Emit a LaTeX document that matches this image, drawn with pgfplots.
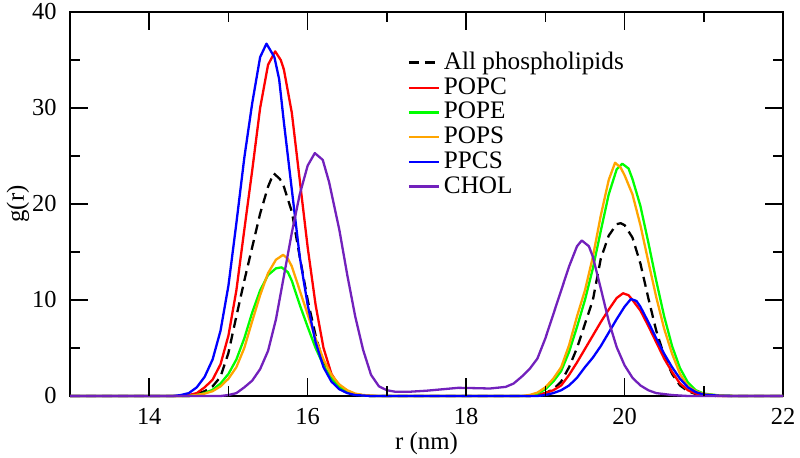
\documentclass[border=0pt,12pt]{standalone}
\usepackage{fontspec}
\setmainfont{Liberation Serif}
\usepackage{pgfplots}
\pgfplotsset{compat=1.18}
\definecolor{ggreen}{RGB}{0,255,0}
\definecolor{gorange}{RGB}{255,165,0}
\definecolor{gindigo}{RGB}{114,33,188}
\begin{document}
\begin{tikzpicture}
\begin{axis}[
  name=ax,
  scale only axis,
  width=356.5pt, height=192pt,
  xmin=13, xmax=22, ymin=0, ymax=40,
  xtick={14,16,...,22}, ytick={0,10,...,40},
  minor xtick={13,15,...,21}, minor ytick={5,15,...,35},
  tick align=inside,
  major tick length=9pt, minor tick length=5pt,
  axis line style={line width=0.8pt},
  major tick style={line width=0.8pt, draw=black},
  minor tick style={line width=0.8pt, draw=black},
  clip=false,
  /pgf/number format/assume math mode=true,
  tick label style={font=\fontsize{12.2}{14}\selectfont},
  xticklabel style={inner sep=0pt, anchor=north, yshift=-6pt},
  yticklabel style={inner sep=0pt, anchor=east, xshift=-6.5pt},
  label style={font=\fontsize{12.4}{14}\selectfont},
  xlabel={r (nm)}, ylabel={g(r)},
  xlabel style={at={(axis description cs:0.5,0)}, anchor=north, yshift=-16.5pt, inner sep=1.5pt},
  ylabel style={at={([xshift=-26pt]axis description cs:0,0.5)}, anchor=center, inner sep=0pt},
  legend style={draw=none, fill=none, at={(0.473,0.907)}, anchor=north west,
    font=\fontsize{12.6}{14}\selectfont, row sep=-1.8pt, inner sep=0pt,
    /tikz/every even column/.append style={column sep=9pt}},
  legend cell align=left,
  legend image code/.code={\draw[#1] (0pt,0pt) -- (15pt,0pt);},
  every axis plot/.append style={line width=1.15pt, line join=round},
]
\addplot[black, dash pattern=on 5pt off 3pt] coordinates {
(13,0) (14.5,0) (14.6,0.2) (14.7,0.5) (14.8,1.0) (14.9,2.0) (15.0,4.5) (15.1,8.3) (15.2,12.0) (15.3,15.5) (15.4,19.0) (15.5,21.8) (15.57,23.2) (15.65,22.6) (15.7,21.8) (15.8,19.2) (15.9,14.5) (16.0,10.0) (16.1,6.3) (16.2,3.4) (16.3,1.7) (16.4,0.8) (16.5,0.3) (16.6,0.1) (16.8,0) (18.8,0) (18.9,0.1) (19.0,0.3) (19.1,0.7) (19.2,1.5) (19.3,3.0) (19.4,5.0) (19.5,7.5) (19.6,10.0) (19.7,14.3) (19.8,16.7) (19.9,17.9) (19.95,18.0) (20.0,17.8) (20.1,16.5) (20.2,13.8) (20.3,10.2) (20.4,6.8) (20.5,4.2) (20.6,2.3) (20.7,1.1) (20.8,0.5) (20.9,0.2) (21.0,0.05) (21.2,0) (22,0)
};
\addlegendentry{All phospholipids}
\addplot[red] coordinates {
(13,0) (14.4,0) (14.5,0.1) (14.6,0.3) (14.7,0.9) (14.8,1.7) (14.9,3.3) (15.0,6.3) (15.1,11.0) (15.2,17.3) (15.3,23.5) (15.4,30.0) (15.5,34.5) (15.59,35.9) (15.66,35.0) (15.7,34.0) (15.8,29.5) (15.9,22.5) (16.0,15.5) (16.1,9.5) (16.2,5.0) (16.3,2.3) (16.4,1.0) (16.5,0.4) (16.6,0.15) (16.8,0) (18.8,0) (18.9,0.1) (19.0,0.3) (19.1,0.6) (19.2,1.1) (19.3,2.2) (19.4,3.5) (19.5,4.9) (19.6,6.3) (19.7,7.7) (19.8,9.0) (19.9,10.2) (19.98,10.7) (20.05,10.5) (20.1,10.0) (20.2,8.9) (20.3,7.3) (20.4,5.6) (20.5,3.9) (20.6,2.5) (20.7,1.3) (20.8,0.6) (20.9,0.25) (21.0,0.1) (21.2,0) (22,0)
};
\addlegendentry{POPC}
\addplot[ggreen] coordinates {
(13,0) (14.5,0) (14.6,0.1) (14.7,0.3) (14.8,0.65) (14.9,1.3) (15.0,2.3) (15.1,3.8) (15.2,6.0) (15.3,8.7) (15.4,11.0) (15.5,12.6) (15.6,13.3) (15.67,13.4) (15.75,12.9) (15.8,12.0) (15.9,9.5) (16.0,7.2) (16.1,5.0) (16.2,3.2) (16.3,1.8) (16.4,0.9) (16.5,0.4) (16.6,0.15) (16.8,0) (18.8,0) (18.9,0.25) (19.0,0.7) (19.1,1.5) (19.2,2.6) (19.3,4.6) (19.4,7.2) (19.5,10.0) (19.6,13.3) (19.7,17.2) (19.8,21.0) (19.9,23.6) (19.97,24.2) (20.05,23.7) (20.1,22.6) (20.2,19.8) (20.3,16.0) (20.4,12.0) (20.5,8.3) (20.6,5.2) (20.7,2.9) (20.8,1.4) (20.9,0.6) (21.0,0.25) (21.2,0.05) (21.4,0) (22,0)
};
\addlegendentry{POPE}
\addplot[gorange] coordinates {
(13,0) (14.5,0) (14.6,0.1) (14.7,0.25) (14.8,0.5) (14.9,1.0) (15.0,1.8) (15.1,3.0) (15.2,5.0) (15.3,7.8) (15.4,10.5) (15.5,12.8) (15.6,14.2) (15.69,14.7) (15.75,14.3) (15.8,13.5) (15.9,11.0) (16.0,8.5) (16.1,6.0) (16.2,3.8) (16.3,2.2) (16.4,1.2) (16.5,0.6) (16.6,0.25) (16.7,0.1) (16.9,0) (18.7,0) (18.8,0.1) (18.9,0.35) (19.0,0.9) (19.1,1.8) (19.2,3.0) (19.3,5.3) (19.4,8.3) (19.5,11.0) (19.6,14.5) (19.7,18.8) (19.8,22.5) (19.88,24.3) (19.95,23.8) (20.0,23.0) (20.1,21.0) (20.2,17.8) (20.3,14.0) (20.4,10.3) (20.5,7.0) (20.6,4.4) (20.7,2.3) (20.8,1.0) (20.9,0.5) (21.0,0.2) (21.2,0.05) (21.4,0) (22,0)
};
\addlegendentry{POPS}
\addplot[blue] coordinates {
(13,0) (14.3,0) (14.4,0.1) (14.5,0.3) (14.6,0.9) (14.7,2.0) (14.8,3.8) (14.9,6.8) (15.0,11.5) (15.1,18.0) (15.2,24.8) (15.3,30.5) (15.4,35.3) (15.48,36.7) (15.58,35.3) (15.64,33.0) (15.7,28.5) (15.8,21.5) (15.9,14.5) (16.0,9.5) (16.1,5.6) (16.2,3.0) (16.3,1.5) (16.4,0.7) (16.5,0.3) (16.6,0.1) (16.8,0) (18.9,0) (19.0,0.1) (19.1,0.3) (19.2,0.6) (19.3,1.1) (19.4,1.9) (19.5,3.0) (19.6,4.0) (19.7,5.2) (19.8,6.6) (19.9,8.0) (20.0,9.3) (20.08,10.1) (20.15,9.9) (20.2,9.3) (20.3,7.7) (20.4,6.0) (20.5,4.4) (20.6,3.0) (20.7,1.8) (20.8,0.9) (20.9,0.4) (21.0,0.15) (21.2,0.03) (21.4,0) (22,0)
};
\addlegendentry{PPCS}
\addplot[gindigo] coordinates {
(13,0) (14.9,0) (15.0,0.1) (15.1,0.3) (15.2,0.9) (15.3,1.6) (15.4,2.8) (15.5,4.7) (15.6,8.0) (15.7,12.5) (15.8,17.0) (15.9,21.0) (16.0,24.0) (16.09,25.3) (16.19,24.6) (16.27,22.3) (16.4,17.3) (16.5,12.6) (16.6,8.3) (16.7,4.8) (16.8,2.2) (16.9,1.0) (17.0,0.6) (17.1,0.45) (17.3,0.45) (17.5,0.55) (17.7,0.7) (17.9,0.85) (18.1,0.82) (18.3,0.78) (18.5,0.95) (18.6,1.3) (18.7,2.0) (18.8,2.8) (18.9,3.9) (19.0,6.0) (19.1,8.5) (19.2,11.0) (19.3,13.5) (19.4,15.6) (19.46,16.2) (19.55,15.6) (19.6,14.5) (19.7,11.2) (19.8,7.8) (19.9,5.1) (20.0,3.2) (20.1,1.9) (20.2,1.1) (20.3,0.6) (20.4,0.3) (20.6,0.1) (20.8,0) (22,0)
};
\addlegendentry{CHOL}
\draw[line width=0.8pt, black]
  (axis cs:14,0) -- ++(0pt,9pt) (axis cs:16,0) -- ++(0pt,9pt) (axis cs:18,0) -- ++(0pt,9pt) (axis cs:20,0) -- ++(0pt,9pt)
  (axis cs:14,40) -- ++(0pt,-9pt) (axis cs:16,40) -- ++(0pt,-9pt) (axis cs:18,40) -- ++(0pt,-9pt) (axis cs:20,40) -- ++(0pt,-9pt)
  (axis cs:15,0) -- ++(0pt,5pt) (axis cs:17,0) -- ++(0pt,5pt) (axis cs:19,0) -- ++(0pt,5pt) (axis cs:21,0) -- ++(0pt,5pt)
  (axis cs:15,40) -- ++(0pt,-5pt) (axis cs:17,40) -- ++(0pt,-5pt) (axis cs:19,40) -- ++(0pt,-5pt) (axis cs:21,40) -- ++(0pt,-5pt)
  (axis cs:13,10) -- ++(9pt,0pt) (axis cs:13,20) -- ++(9pt,0pt) (axis cs:13,30) -- ++(9pt,0pt)
  (axis cs:22,10) -- ++(-9pt,0pt) (axis cs:22,20) -- ++(-9pt,0pt) (axis cs:22,30) -- ++(-9pt,0pt)
  (axis cs:13,5) -- ++(5pt,0pt) (axis cs:13,15) -- ++(5pt,0pt) (axis cs:13,25) -- ++(5pt,0pt) (axis cs:13,35) -- ++(5pt,0pt)
  (axis cs:22,5) -- ++(-5pt,0pt) (axis cs:22,15) -- ++(-5pt,0pt) (axis cs:22,25) -- ++(-5pt,0pt) (axis cs:22,35) -- ++(-5pt,0pt);
\end{axis}
\pgfresetboundingbox
\path ([shift={(-35pt,-31pt)}]ax.south west) rectangle ([shift={(8.5pt,6pt)}]ax.north east);
\end{tikzpicture}
\end{document}
